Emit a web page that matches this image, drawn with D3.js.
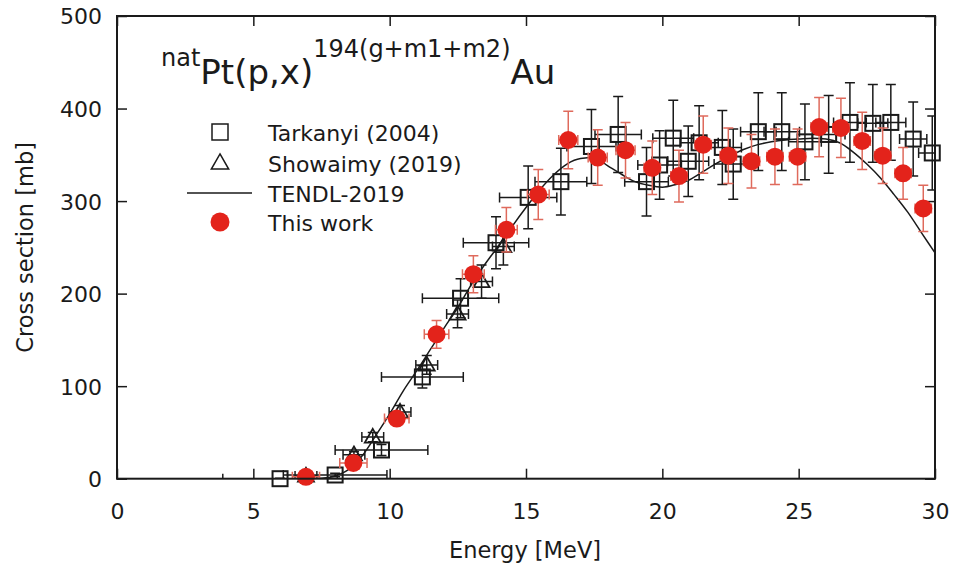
<!DOCTYPE html>
<html>
<head>
<meta charset="utf-8">
<script src="https://cdn.jsdelivr.net/npm/d3@7"></script>
<style>
  body { margin: 0; background: #fff; }
  svg { display: block; }
  text { font-family: "DejaVu Sans", Verdana, sans-serif; fill: #1a1a1a; }
</style>
</head>
<body>
<svg id="chart" width="955" height="572"></svg>
<script>
// ---------------- data ----------------
const xTicks = [0, 5, 10, 15, 20, 25, 30];
const yTicks = [0, 100, 200, 300, 400, 500];

// Tarkanyi (2004): energy, cross section, energy error, cross-section error
const tarkE   = [5.98, 8.0, 9.7, 11.2, 12.6, 13.9, 15.08, 16.28, 17.4, 18.38, 19.42, 19.9, 20.4, 20.95, 21.35, 22.2, 22.6, 23.52, 24.38, 25.23, 26.1, 26.88, 27.72, 28.38, 29.2, 29.9];
const tarkS   = [0, 4, 31, 110, 195, 255, 304, 321, 359, 372, 321, 339, 368, 343, 363, 358, 340, 375, 375, 364, 372, 385, 384, 385, 367, 352];
const tarkDE  = [2.1, 1.9, 1.7, 1.5, 1.4, 1.2, 1.05, 0.95, 0.9, 0.85, 0.8, 0.8, 0.75, 0.75, 0.7, 0.7, 0.7, 0.65, 0.65, 0.6, 0.6, 0.6, 0.55, 0.55, 0.5, 0.5];
const tarkDS  = [0.5, 2, 6, 12, 21, 28, 34, 36, 40, 41, 37, 37, 41, 38, 40, 40, 38, 42, 42, 41, 42, 43, 42, 41, 40, 40];

// Showaimy (2019)
const showE   = [6.93, 8.69, 9.38, 10.38, 11.36, 12.49, 13.37, 14.17];
const showS   = [3, 26, 45, 72, 123, 178, 213, 251];
const showDE  = [0.4, 0.4, 0.4, 0.4, 0.4, 0.4, 0.4, 0.4];
const showDS  = [1, 3, 5, 7, 10, 15, 18, 20];

// TENDL-2019
const tendlE  = [0, 7, 7.5, 8, 8.5, 9, 9.5, 10, 10.5, 11, 11.5, 12, 12.5, 13, 13.5, 14, 14.5, 15, 15.5, 16, 16.5, 17, 17.5, 18, 18.5, 19, 19.5, 20, 20.5, 21, 21.5, 22, 22.5, 23, 23.5, 24, 24.5, 25, 25.5, 26, 26.5, 27, 27.5, 28, 28.5, 29, 29.5, 30];
const tendlS  = [0, 0, 0.5, 3, 10, 25, 47, 70, 95, 117, 140, 163, 185, 210, 232, 252, 273, 293, 312, 328, 340, 346, 347, 338, 329, 321, 317, 315, 318, 323, 332, 341, 349, 356, 361, 364, 366, 367, 368, 367, 363, 353, 340, 325, 307, 288, 266, 244];

// This work
const workE   = [6.93, 8.67, 10.26, 11.72, 13.07, 14.28, 15.45, 16.55, 17.63, 18.65, 19.63, 20.61, 21.5, 22.42, 23.27, 24.13, 24.96, 25.75, 26.55, 27.33, 28.08, 28.83, 29.57];
const workS   = [2, 17, 65, 156, 221, 269, 307, 366, 347, 355, 336, 327, 361, 349, 343, 348, 348, 380, 379, 365, 349, 330, 292];
const workDE  = [0.5, 0.5, 0.45, 0.45, 0.4, 0.4, 0.4, 0.35, 0.35, 0.35, 0.3, 0.3, 0.3, 0.3, 0.3, 0.3, 0.3, 0.3, 0.3, 0.3, 0.3, 0.3, 0.3];
const workDS  = [1, 3, 6, 15, 20, 24, 27, 31, 30, 30, 29, 28, 31, 30, 29, 30, 30, 32, 32, 31, 30, 28, 25];

const legendLabels = ["Tarkanyi (2004)", "Showaimy (2019)", "TENDL-2019", "This work"];

// ---------------- chart ----------------
const svg = d3.select("#chart");
const L = 117, R = 935, T = 16, B = 478.7;
const x = d3.scaleLinear().domain([0, 30]).range([L, R]);
const y = d3.scaleLinear().domain([0, 500]).range([B, T]);

const ink = "#1a1a1a";
const redFill = "#e3231b";
const redBar = "#df6a5c";

const zip = (E, S, dE, dS) => E.map((e, i) => ({e, s: S[i], de: dE[i], ds: dS[i]}));
const tark = zip(tarkE, tarkS, tarkDE, tarkDS);
const show = zip(showE, showS, showDE, showDS);
const work = zip(workE, workS, workDE, workDS);
const tendl = tendlE.map((e, i) => ({e, s: tendlS[i]}));

svg.append("defs").append("clipPath").attr("id", "plotclip")
  .append("rect").attr("x", L).attr("y", T).attr("width", R - L).attr("height", B - T);

// axes with inward ticks (mirrored on top and right)
const tickFont = 22;
const gx = svg.append("g").attr("transform", `translate(0,${B})`)
  .call(d3.axisBottom(x).tickValues(xTicks).tickSizeInner(-10).tickSizeOuter(0).tickPadding(0).tickFormat(d3.format("d")));
gx.selectAll("text").attr("y", 40).attr("dy", null).style("font-size", tickFont + "px");
const gxt = svg.append("g").attr("transform", `translate(0,${T})`)
  .call(d3.axisTop(x).tickValues(xTicks).tickSizeInner(-10).tickSizeOuter(0).tickFormat(""));
const gy = svg.append("g").attr("transform", `translate(${L},0)`)
  .call(d3.axisLeft(y).tickValues(yTicks).tickSizeInner(-10).tickSizeOuter(0).tickPadding(15));
gy.selectAll("text").attr("dy", "0.36em").style("font-size", tickFont + "px");
const gyr = svg.append("g").attr("transform", `translate(${R},0)`)
  .call(d3.axisRight(y).tickValues(yTicks).tickSizeInner(-10).tickSizeOuter(0).tickFormat(""));
[gx, gxt, gy, gyr].forEach(g => {
  g.select(".domain").remove();
  g.selectAll("line").attr("stroke", ink).attr("stroke-width", 1.5);
  g.selectAll("text").attr("fill", ink).style("font-family", '"DejaVu Sans", Verdana, sans-serif');
});

// error bars
function errorBars(data, color, width) {
  const g = svg.append("g").attr("clip-path", "url(#plotclip)")
    .attr("stroke", color).attr("stroke-width", width).attr("fill", "none");
  const cap = 5;
  data.forEach(d => {
    const cx = x(d.e), cy = y(d.s);
    const y1 = y(d.s - d.ds), y2 = y(d.s + d.ds);
    const x1 = x(d.e - d.de), x2 = x(d.e + d.de);
    const p = d3.path();
    p.moveTo(cx, y1); p.lineTo(cx, y2);
    p.moveTo(cx - cap, y1); p.lineTo(cx + cap, y1);
    p.moveTo(cx - cap, y2); p.lineTo(cx + cap, y2);
    p.moveTo(x1, cy); p.lineTo(x2, cy);
    p.moveTo(x1, cy - cap); p.lineTo(x1, cy + cap);
    p.moveTo(x2, cy - cap); p.lineTo(x2, cy + cap);
    g.append("path").attr("d", p.toString());
  });
}

const sq = 15;
// Tarkanyi
errorBars(tark, ink, 1.5);
svg.append("g").selectAll("rect").data(tark).join("rect")
  .attr("x", d => x(d.e) - sq / 2).attr("y", d => y(d.s) - sq / 2)
  .attr("width", sq).attr("height", sq)
  .attr("fill", "none").attr("stroke", ink).attr("stroke-width", 2);

// Showaimy
const tri = d3.symbol().type(d3.symbolTriangle).size(110);
errorBars(show, ink, 1.5);
svg.append("g").selectAll("path").data(show).join("path")
  .attr("d", tri).attr("transform", d => `translate(${x(d.e)},${y(d.s) + 1})`)
  .attr("fill", "none").attr("stroke", ink).attr("stroke-width", 1.8);

// TENDL
const line = d3.line().x(d => x(d.e)).y(d => y(d.s)).curve(d3.curveMonotoneX);
svg.append("path").datum(tendl).attr("d", line)
  .attr("clip-path", "url(#plotclip)")
  .attr("fill", "none").attr("stroke", ink).attr("stroke-width", 1.5);

// This work
errorBars(work, redBar, 1.5);
svg.append("g").selectAll("circle").data(work).join("circle")
  .attr("cx", d => x(d.e)).attr("cy", d => y(d.s)).attr("r", 9)
  .attr("fill", redFill);

// frame
svg.append("rect").attr("x", L).attr("y", T).attr("width", R - L).attr("height", B - T)
  .attr("fill", "none").attr("stroke", ink).attr("stroke-width", 2);

// title
const title = svg.append("text").attr("x", 161).attr("y", 83);
title.append("tspan").attr("y", 66).style("font-size", "24px").text("nat");
title.append("tspan").attr("y", 84).style("font-size", "34px").text("Pt(p,x)");
title.append("tspan").attr("y", 57).style("font-size", "24px").text("194(g+m1+m2)");
title.append("tspan").attr("y", 84).style("font-size", "34px").text("Au");

// legend
const legY = [132, 163, 193, 222];
const lg = svg.append("g");
legendLabels.forEach((t, i) => {
  lg.append("text").attr("x", 268).attr("y", legY[i] + 9).style("font-size", "22px").text(t);
});
lg.append("rect").attr("x", 220 - 8).attr("y", legY[0] - 8).attr("width", 16).attr("height", 16)
  .attr("fill", "none").attr("stroke", ink).attr("stroke-width", 1.5);
lg.append("path").attr("d", d3.symbol().type(d3.symbolTriangle).size(130))
  .attr("transform", `translate(220,${legY[1] + 1})`)
  .attr("fill", "none").attr("stroke", ink).attr("stroke-width", 1.5);
lg.append("line").attr("x1", 187).attr("x2", 252).attr("y1", legY[2]).attr("y2", legY[2])
  .attr("stroke", ink).attr("stroke-width", 1.5);
lg.append("circle").attr("cx", 220).attr("cy", legY[3]).attr("r", 9.5).attr("fill", redFill);

// axis labels
svg.append("text").attr("x", (L + R) / 2 - 1).attr("y", 558).attr("text-anchor", "middle")
  .style("font-size", "22.5px").text("Energy [MeV]");
svg.append("text").attr("transform", `translate(33,${(T + B) / 2}) rotate(-90)`)
  .attr("text-anchor", "middle").style("font-size", "22.5px").text("Cross section [mb]");
</script>
</body>
</html>
